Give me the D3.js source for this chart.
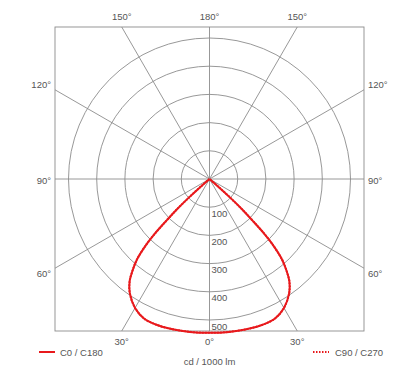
<!DOCTYPE html>
<meta charset="utf-8">
<style>
body { margin: 0; background: #fff; }
text { font-family: "Liberation Sans", Arial, sans-serif; fill: #555; }
.grid { fill: none; stroke: #8c8c8c; stroke-width: 0.9px; }
.curve { fill: none; stroke: #e8191c; stroke-width: 2px; }
</style>
<body>
<script src="https://d3js.org/d3.v7.min.js"></script>
<script>

// luminous intensity, cd / 1000 lm, by gamma angle (0 = nadir)
var gammas = [0, 5, 10, 15, 20, 25, 30, 35, 38, 40, 42, 44, 45, 46, 47, 48, 49, 50, 60, 90];
var c0c180 = [545, 546, 547, 549, 550, 547, 528, 493, 460, 425, 385, 320, 275, 210, 160, 100, 40, 0, 0, 0];
var c90c270 = [545, 546, 547, 549, 550, 547, 528, 493, 460, 425, 385, 320, 275, 210, 160, 100, 40, 0, 0, 0];

var ringValues = [100, 200, 300, 400, 500];
var spokeAngles = [0, 30, 60, 90, 120, 150, 180];

var width = 398, height = 375;
var cx = 209.5, cy = 179;
var box = {left: 55, right: 364, top: 27, bottom: 331};

var r = d3.scaleLinear().domain([0, 500]).range([0, 141]);

var svg = d3.select("body").append("svg")
    .attr("width", width)
    .attr("height", height);

// frame
svg.append("rect")
    .attr("class", "grid")
    .attr("x", box.left).attr("y", box.top)
    .attr("width", box.right - box.left)
    .attr("height", box.bottom - box.top);

var g = svg.append("g")
    .attr("transform", "translate(" + cx + "," + cy + ")");

// rings
g.selectAll("circle.ring")
    .data(ringValues)
  .enter().append("circle")
    .attr("class", "grid")
    .attr("r", function(d) { return r(d); });

// spokes, clipped to the frame; degrees measured from nadir
function edgePoint(deg, side) {
  var a = deg * Math.PI / 180;
  var dx = side * Math.sin(a), dy = Math.cos(a);
  var tx = dx > 0 ? (box.right - cx) / dx : dx < 0 ? (box.left - cx) / dx : Infinity;
  var ty = dy > 0 ? (box.bottom - cy) / dy : dy < 0 ? (box.top - cy) / dy : Infinity;
  var t = Math.min(tx, ty);
  return [dx * t, dy * t, tx < ty ? "side" : "tb"];
}

var spokes = [];
spokeAngles.forEach(function(d) {
  spokes.push({deg: d, side: 1});
  if (d > 0 && d < 180) spokes.push({deg: d, side: -1});
});

g.selectAll("line.spoke")
    .data(spokes)
  .enter().append("line")
    .attr("class", "grid")
    .attr("x1", 0).attr("y1", 0)
    .attr("x2", function(d) { return edgePoint(d.deg, d.side)[0]; })
    .attr("y2", function(d) { return edgePoint(d.deg, d.side)[1]; });

// spoke labels
svg.selectAll("text.angle")
    .data(spokes)
  .enter().append("text")
    .attr("font-size", 9.5)
    .attr("x", function(d) {
      var p = edgePoint(d.deg, d.side);
      if (p[2] === "side") return cx + p[0] + (d.side > 0 ? 4 : -4);
      return cx + p[0];
    })
    .attr("y", function(d) {
      var p = edgePoint(d.deg, d.side);
      if (p[2] === "tb") return p[1] > 0 ? box.bottom + 14 : box.top - 7;
      var push = Math.abs(p[1]) < 1 ? 1.5 : (p[1] > 0 ? 5 : -5);
      return cy + p[1] + 3.5 + push;
    })
    .attr("text-anchor", function(d) {
      var p = edgePoint(d.deg, d.side);
      if (p[2] === "tb") return "middle";
      return d.side > 0 ? "start" : "end";
    })
    .text(function(d) { return d.deg + "°"; });

// ring labels
svg.selectAll("text.ring")
    .data(ringValues)
  .enter().append("text")
    .attr("font-size", 9.5)
    .attr("x", cx + 2)
    .attr("y", function(d) { return cy + r(d) + 9.5; })
    .text(function(d) { return d; });

// intensity curves
function polarPoints(values) {
  var pts = [];
  for (var i = gammas.length - 1; i >= 0; i--) pts.push([Math.PI + gammas[i] * Math.PI / 180, r(values[i])]);
  for (var j = 1; j < gammas.length; j++) pts.push([Math.PI - gammas[j] * Math.PI / 180, r(values[j])]);
  return pts;
}

var radial = d3.lineRadial()
    .angle(function(d) { return d[0]; })
    .radius(function(d) { return d[1]; })
    .curve(d3.curveCatmullRom);

g.append("path")
    .attr("class", "curve")
    .style("stroke-dasharray", "1.5,1.5")
    .attr("d", radial(polarPoints(c90c270)));

g.append("path")
    .attr("class", "curve")
    .attr("d", radial(polarPoints(c0c180)));

// legend
svg.append("line")
    .attr("class", "curve")
    .attr("stroke-width", 2.5)
    .attr("x1", 39).attr("x2", 55)
    .attr("y1", 352).attr("y2", 352);
svg.append("text")
    .attr("font-size", 9.5)
    .attr("x", 60).attr("y", 355.5)
    .text("C0 / C180");

svg.append("line")
    .attr("class", "curve")
    .style("stroke-dasharray", "1.5,1.5")
    .attr("x1", 313).attr("x2", 329)
    .attr("y1", 352).attr("y2", 352);
svg.append("text")
    .attr("font-size", 9.5)
    .attr("x", 335).attr("y", 355.5)
    .text("C90 / C270");

svg.append("text")
    .attr("font-size", 9.5)
    .attr("x", cx).attr("y", 365)
    .attr("text-anchor", "middle")
    .text("cd / 1000 lm");

</script>
</body>
